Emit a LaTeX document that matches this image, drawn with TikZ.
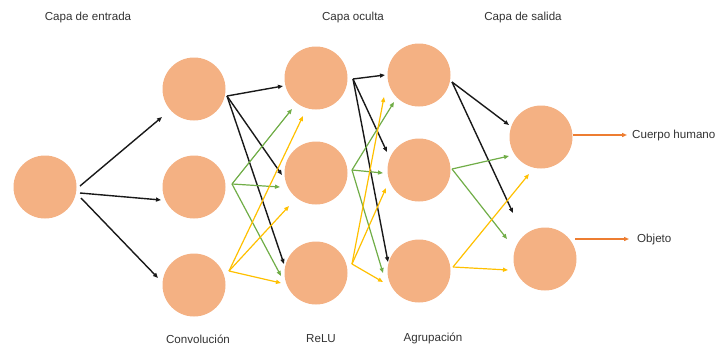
\documentclass[tikz,border=0pt]{standalone}
\usepackage{fontspec}
\setmainfont{Liberation Sans}
\usetikzlibrary{arrows.meta}
\definecolor{peach}{HTML}{F4B183}
\definecolor{txt}{HTML}{333333}
\definecolor{ngreen}{HTML}{70AD47}
\definecolor{nyellow}{HTML}{FFC000}
\definecolor{norange}{HTML}{ED7D31}
\tikzset{
  neuron/.style={circle, fill=peach, minimum size=63pt, inner sep=0pt},
  lbl/.style={text=txt, font=\fontsize{11.6pt}{13pt}\selectfont, inner sep=0pt},
  link/.style={-{Triangle[length=5pt,width=4pt]}, line width=1.4pt},
  blk/.style={link, black!90},
  grn/.style={link, ngreen, line width=1.2pt},
  yel/.style={link, nyellow, line width=1.2pt},
  org/.style={link, norange, line width=1.3pt}
}
\begin{document}
\begin{tikzpicture}[x=1pt, y=-1pt]
\useasboundingbox (0,0) rectangle (717,349);

% layer titles
\node[lbl] (tin)  at (88,17)  {Capa de entrada};
\node[lbl] (thid) at (353,17) {Capa oculta};
\node[lbl] (tout) at (523,17) {Capa de salida};
\node[lbl] (tconv) at (198,339) {Convolución};
\node[lbl] (trelu) at (321,339) {ReLU};
\node[lbl] (tpool) at (433,338) {Agrupación};

% neurons
\node[neuron] (in) at (45,187) {};
\node[neuron] (c1) at (194,89) {};
\node[neuron] (c2) at (194,187) {};
\node[neuron] (c3) at (194,285) {};
\node[neuron] (r1) at (316,78) {};
\node[neuron] (r2) at (316,173) {};
\node[neuron] (r3) at (316,273) {};
\node[neuron] (g1) at (419,75) {};
\node[neuron] (g2) at (419,170) {};
\node[neuron] (g3) at (419,271) {};
\node[neuron] (o1) at (541,137) {};
\node[neuron] (o2) at (545,259) {};

% output labels
\node[lbl, anchor=west] (body) at (632,135) {Cuerpo humano};
\node[lbl, anchor=west] (obj)  at (637,239) {Objeto};

% input -> convolution
\coordinate (in-a) at (80,186);
\coordinate (in-b) at (80,193);
\coordinate (in-c) at (81,198);
\coordinate (c1-in) at (162,117);
\coordinate (c2-in) at (161,200);
\coordinate (c3-in) at (158,278);
\draw[blk] (in-a) -- (c1-in);
\draw[blk] (in-b) -- (c2-in);
\draw[blk] (in-c) -- (c3-in);

% convolution -> ReLU
\coordinate (c1-h) at (227,96);
\coordinate (c2-h) at (232,184);
\coordinate (c3-h) at (229,271);
\coordinate (r1-k) at (283,86);
\coordinate (r2-k) at (282,175);
\coordinate (r3-k) at (284,264);
\coordinate (r1-g) at (292,109);
\coordinate (r2-g) at (280,187);
\coordinate (r3-g) at (281,276);
\coordinate (r1-y) at (303,116);
\coordinate (r2-y) at (289,206);
\coordinate (r3-y) at (281,283);
\draw[blk] (c1-h) -- (r1-k);
\draw[blk] (c1-h) -- (r2-k);
\draw[blk] (c1-h) -- (r3-k);
\draw[grn] (c2-h) -- (r1-g);
\draw[grn] (c2-h) -- (r2-g);
\draw[grn] (c2-h) -- (r3-g);
\draw[yel] (c3-h) -- (r1-y);
\draw[yel] (c3-h) -- (r2-y);
\draw[yel] (c3-h) -- (r3-y);

% ReLU -> pooling
\coordinate (r1-h) at (353,79);
\coordinate (r2-h) at (352,170);
\coordinate (r3-h) at (352,264);
\coordinate (g1-k) at (385,75);
\coordinate (g2-k) at (387,152);
\coordinate (g3-k) at (388,262);
\coordinate (g1-g) at (394,102);
\coordinate (g2-g) at (383,173);
\coordinate (g3-g) at (383,273);
\coordinate (g1-y) at (384,97);
\coordinate (g2-y) at (386,188);
\coordinate (g3-y) at (383,282);
\draw[blk] (r1-h) -- (g1-k);
\draw[blk] (r1-h) -- (g2-k);
\draw[blk] (r1-h) -- (g3-k);
\draw[grn] (r2-h) -- (g1-g);
\draw[grn] (r2-h) -- (g2-g);
\draw[grn] (r2-h) -- (g3-g);
\draw[yel] (r3-h) -- (g1-y);
\draw[yel] (r3-h) -- (g2-y);
\draw[yel] (r3-h) -- (g3-y);

% pooling -> output
\coordinate (g1-h) at (452,82);
\coordinate (g2-h) at (452,169);
\coordinate (g3-h) at (453,267);
\coordinate (o1-k) at (509,125);
\coordinate (o2-k) at (513,213);
\coordinate (o1-g) at (509,156);
\coordinate (o2-g) at (507,239);
\coordinate (o1-y) at (529,174);
\coordinate (o2-y) at (508,270);
\draw[blk] (g1-h) -- (o1-k);
\draw[blk] (g1-h) -- (o2-k);
\draw[grn] (g2-h) -- (o1-g);
\draw[grn] (g2-h) -- (o2-g);
\draw[yel] (g3-h) -- (o1-y);
\draw[yel] (g3-h) -- (o2-y);

% output arrows
\coordinate (o1-out) at (573,135);
\coordinate (o2-out) at (575,239);
\draw[org] (o1-out) -- ([xshift=-5pt]body.west);
\draw[org] (o2-out) -- ([xshift=-8pt]obj.west);
\end{tikzpicture}
\end{document}
